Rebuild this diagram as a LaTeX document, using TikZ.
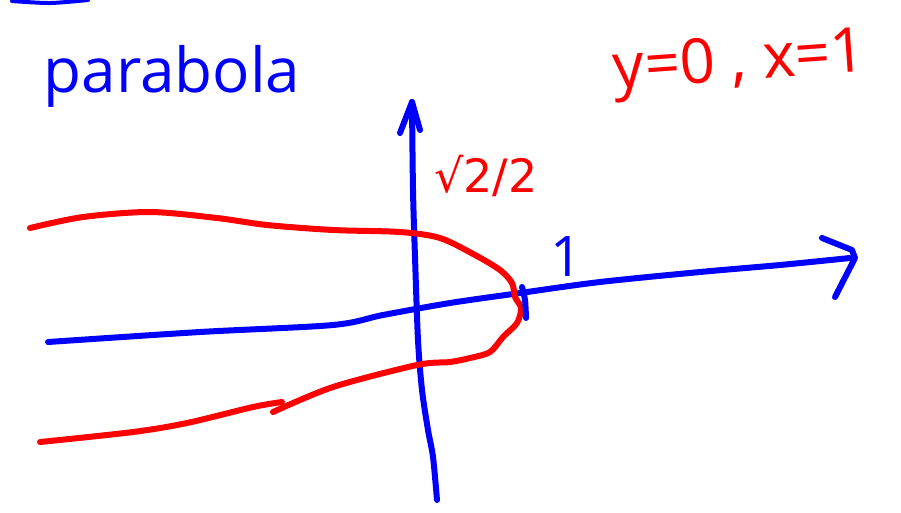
\documentclass[tikz,border=0pt]{standalone}
\usepackage{fontspec}
\setmainfont{Open Sans}
\newfontfamily\rootfont{DejaVu Sans}
\begin{document}
\begin{tikzpicture}[x=1pt,y=-1pt,line cap=round,line join=round,
	pen/.style={line width=6pt},
	hand/.style={inner sep=0pt,anchor=base}]
	\useasboundingbox (0,0) rectangle (901,512);
	
	% stroke cut off at the top
	\draw[blue,line width=4pt] plot[smooth] coordinates{(12,1) (50,3) (88,0)};
	
	\node[hand,blue,font=\fontsize{62}{62}\selectfont] (title) at (172,92) {parabola};
	\node[hand,red,rotate=4,font=\fontsize{62}{62}\selectfont] (eqs) at (741,80) {y=0 , x=1};
	
	% axes
	\draw[blue,pen] plot[smooth] coordinates{(412,102) (413,190) (415,257) (418,340) (422,390) (428,430) (433,457) (437,500)};
	\draw[blue,pen] (400,133)--(412,102)--(420,130);
	
	\draw[blue,pen] plot[smooth] coordinates{(48,342) (200,332) (333,325) (383,315) (450,303) (520,293) (600,282) (700,272) (780,265) (850,258)};
	\draw[blue,pen] (822,238)--(852,250)--(855,258)--(835,297);
	
	% the curve
	\draw[red,pen] plot[smooth] coordinates{(30,228) (83,217) (150,212) (217,218) (267,225) (333,230) (400,232) (440,238) (475,255) (500,270) (512,283) (515,297) (521,308) (517,323) (503,337) (490,352) (470,358) (450,362) (417,365) (333,387) (273,412)};
	\draw[red,pen] plot[smooth] coordinates{(40,442) (133,432) (187,423) (253,407) (282,402)};
	\draw[blue,pen] plot[smooth] coordinates{(522,287) (525,300) (526,318)};
	
	\node[hand,red,font=\rootfont\fontsize{46}{46}\selectfont] (root) at (486,192) {√2/2};
	\node[hand,blue,font=\fontsize{56}{56}\selectfont] (one) at (566,276) {1};
\end{tikzpicture}
\end{document}
